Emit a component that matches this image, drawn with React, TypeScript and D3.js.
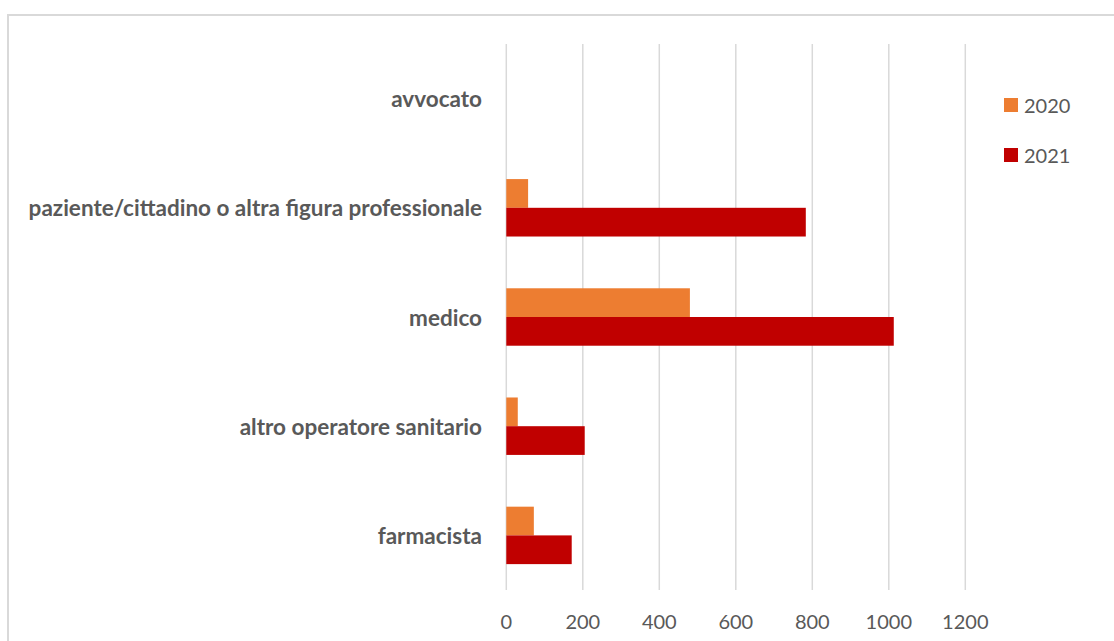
import React, { useEffect, useRef } from "react";
import * as d3 from "d3";

// Categories listed bottom-to-top as in the chart
const categories = [
  "farmacista",
  "altro operatore sanitario",
  "medico",
  "paziente/cittadino o altra figura professionale",
  "avvocato",
];
const seriesNames = ["2020", "2021"];
const values2020 = [72, 30, 480, 57, 0];
const values2021 = [171, 205, 1013, 783, 0];
const xTicks = [0, 200, 400, 600, 800, 1000, 1200];
const colors = ["#ED7D31", "#C00000"];

const W = 1114;
const H = 641;
const FONT = "Lato, 'Open Sans', sans-serif";
const TEXT = "#595959";
const GRID = "#D9D9D9";

export default function App() {
  const ref = useRef<SVGSVGElement>(null);

  useEffect(() => {
    const svg = d3.select(ref.current);
    svg.selectAll("*").remove();

    // chart frame
    svg
      .append("path")
      .attr("d", `M8,${H + 2} V15 H${W + 2}`)
      .attr("fill", "none")
      .attr("stroke", GRID)
      .attr("stroke-width", 2);

    const x = d3.scaleLinear().domain([0, 1200]).range([506.3, 965.3]);
    const y = d3
      .scaleBand<string>()
      .domain([...categories].reverse())
      .range([44, 590])
      .paddingInner(0.474)
      .paddingOuter(0.237);

    // vertical gridlines
    svg
      .append("g")
      .selectAll("line")
      .data(xTicks)
      .join("line")
      .attr("x1", (d) => x(d))
      .attr("x2", (d) => x(d))
      .attr("y1", 44)
      .attr("y2", 590)
      .attr("stroke", GRID)
      .attr("stroke-width", 1.5);

    // tick labels
    svg
      .append("g")
      .selectAll("text")
      .data(xTicks)
      .join("text")
      .attr("x", (d) => x(d))
      .attr("y", 621)
      .attr("text-anchor", "middle")
      .attr("dominant-baseline", "central")
      .attr("font-family", FONT)
      .attr("font-size", 20)
      .attr("fill", TEXT)
      .text((d) => String(d));

    // bars
    const sub = d3
      .scaleBand<string>()
      .domain(seriesNames)
      .range([0, y.bandwidth()]);
    const series = [values2020, values2021];
    series.forEach((vals, si) => {
      svg
        .append("g")
        .selectAll("rect")
        .data(categories.map((c, i) => ({ c, v: vals[i] })))
        .join("rect")
        .attr("x", x(0))
        .attr("y", (d) => (y(d.c) as number) + (sub(seriesNames[si]) as number))
        .attr("width", (d) => x(d.v) - x(0))
        .attr("height", sub.bandwidth())
        .attr("fill", colors[si]);
    });

    // category labels
    svg
      .append("g")
      .selectAll("text")
      .data(categories)
      .join("text")
      .attr("x", 482)
      .attr("y", (d) => (y(d) as number) + y.bandwidth() / 2)
      .attr("text-anchor", "end")
      .attr("dominant-baseline", "central")
      .attr("font-family", FONT)
      .attr("font-size", 22.5)
      .attr("font-weight", "bold")
      .attr("fill", TEXT)
      .text((d) => d);

    // legend
    const legend = svg
      .append("g")
      .selectAll("g")
      .data(seriesNames)
      .join("g")
      .attr("transform", (_, i) => `translate(1004,${105 + i * 50})`);
    legend
      .append("rect")
      .attr("x", 0)
      .attr("y", -7)
      .attr("width", 14)
      .attr("height", 14)
      .attr("fill", (_, i) => colors[i]);
    legend
      .append("text")
      .attr("x", 20)
      .attr("y", 0)
      .attr("dominant-baseline", "central")
      .attr("font-family", FONT)
      .attr("font-size", 20)
      .attr("fill", TEXT)
      .text((d) => d);
  }, []);

  return (
    <svg
      ref={ref}
      width={W}
      height={H}
      style={{ position: "absolute", left: 0, top: 0, background: "#fff" }}
    />
  );
}
